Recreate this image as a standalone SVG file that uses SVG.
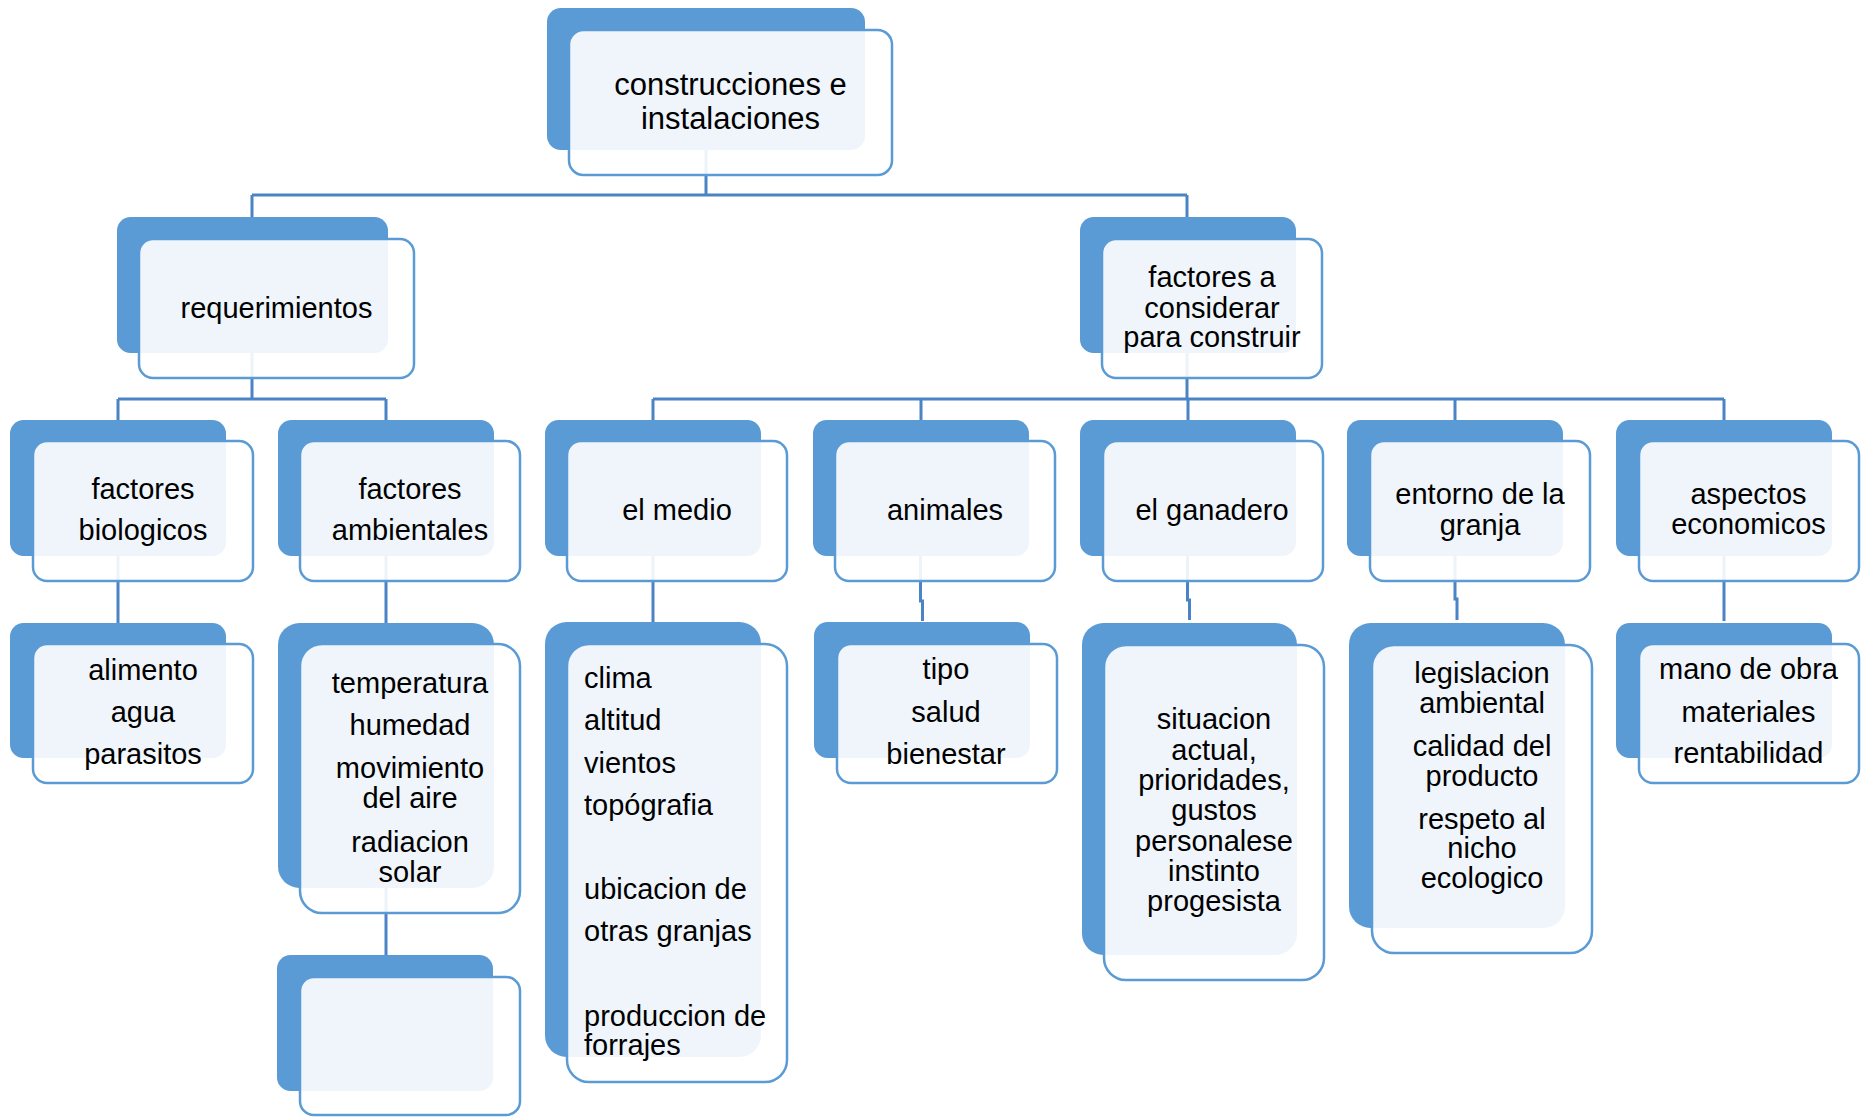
<svg xmlns="http://www.w3.org/2000/svg" width="1871" height="1117" viewBox="0 0 1871 1117">
<style>
.bk{fill:#5B9BD5}
.fr{fill:#FFFFFF;fill-opacity:0.9;stroke:#5B9BD5;stroke-width:2.5}
.t{font-family:"Liberation Sans",Arial,sans-serif;font-size:29px;fill:#000;text-anchor:middle}
.tl{text-anchor:start}
.big{font-size:31px}
.c{fill:none;stroke:#4A84C4;stroke-width:3}
</style>
<rect width="1871" height="1117" fill="#FFFFFF"/>
<g id="connectors">
<path class="c" d="M706 150V195M252 195H1187M252 195V217M1187 195V217"/>
<path class="c" d="M252 353V399M118 399H386M118 399V420M386 399V420"/>
<path class="c" d="M1187 353V399M653 399H1724M653 399V420M921 399V420M1188 399V420M1455 399V420M1724 399V420"/>
<path class="c" d="M118 556V623M386 556V623M653 556V622M920.5 556V601H922.5V621M1187.5 556V600H1189.5V620M1455 556V599H1457V620M1724 556V621"/>
<path class="c" d="M386 888V955"/>
</g>
<g id="n0">
<rect class="bk" x="547" y="8" width="318" height="142" rx="14"/>
<rect class="fr" x="569" y="30" width="323" height="145" rx="14.5"/>
<text class="t big" x="730.5" y="95">construcciones e</text>
<text class="t big" x="730.5" y="129">instalaciones</text>
</g>
<g id="n1">
<rect class="bk" x="117" y="217" width="271" height="136" rx="13.6"/>
<rect class="fr" x="139" y="239" width="275" height="139" rx="14"/>
<text class="t" x="276.5" y="318">requerimientos</text>
</g>
<g id="n2">
<rect class="bk" x="1080" y="217" width="216" height="136" rx="13.6"/>
<rect class="fr" x="1102" y="239" width="220" height="139" rx="14"/>
<text class="t" x="1212" y="287">factores a</text>
<text class="t" x="1212" y="318">considerar</text>
<text class="t" x="1212" y="347">para construir</text>
</g>
<g id="n3">
<rect class="bk" x="10" y="420" width="216" height="136" rx="13.6"/>
<rect class="fr" x="33" y="441" width="220" height="140" rx="14"/>
<text class="t" x="143" y="499">factores</text>
<text class="t" x="143" y="540">biologicos</text>
</g>
<g id="n4">
<rect class="bk" x="278" y="420" width="216" height="136" rx="13.6"/>
<rect class="fr" x="300" y="441" width="220" height="140" rx="14"/>
<text class="t" x="410" y="499">factores</text>
<text class="t" x="410" y="540">ambientales</text>
</g>
<g id="n5">
<rect class="bk" x="545" y="420" width="216" height="136" rx="13.6"/>
<rect class="fr" x="567" y="441" width="220" height="140" rx="14"/>
<text class="t" x="677" y="520">el medio</text>
</g>
<g id="n6">
<rect class="bk" x="813" y="420" width="216" height="136" rx="13.6"/>
<rect class="fr" x="835" y="441" width="220" height="140" rx="14"/>
<text class="t" x="945" y="520">animales</text>
</g>
<g id="n7">
<rect class="bk" x="1080" y="420" width="216" height="136" rx="13.6"/>
<rect class="fr" x="1103" y="441" width="220" height="140" rx="14"/>
<text class="t" x="1212" y="519.5">el ganadero</text>
</g>
<g id="n8">
<rect class="bk" x="1347" y="420" width="216" height="136" rx="13.6"/>
<rect class="fr" x="1370" y="441" width="220" height="140" rx="14"/>
<text class="t" x="1480" y="504">entorno de la</text>
<text class="t" x="1480" y="535">granja</text>
</g>
<g id="n9">
<rect class="bk" x="1616" y="420" width="216" height="136" rx="13.6"/>
<rect class="fr" x="1639" y="441" width="220" height="140" rx="14"/>
<text class="t" x="1748.5" y="504">aspectos</text>
<text class="t" x="1748.5" y="534">economicos</text>
</g>
<g id="n10">
<rect class="bk" x="10" y="623" width="216" height="135" rx="13.5"/>
<rect class="fr" x="33" y="644" width="220" height="139" rx="14"/>
<text class="t" x="143" y="680">alimento</text>
<text class="t" x="143" y="722">agua</text>
<text class="t" x="143" y="764">parasitos</text>
</g>
<g id="n11">
<rect class="bk" x="278" y="623" width="216" height="265" rx="21.6"/>
<rect class="fr" x="300" y="644" width="220" height="269" rx="22"/>
<text class="t" x="410" y="693">temperatura</text>
<text class="t" x="410" y="735">humedad</text>
<text class="t" x="410" y="778">movimiento</text>
<text class="t" x="410" y="808">del aire</text>
<text class="t" x="410" y="852">radiacion</text>
<text class="t" x="410" y="882">solar</text>
</g>
<g id="n12">
<rect class="bk" x="277" y="955" width="216" height="136" rx="13.6"/>
<rect class="fr" x="300" y="977" width="220" height="138" rx="13.8"/>
</g>
<g id="n13">
<rect class="bk" x="545" y="622" width="216" height="435" rx="21.6"/>
<rect class="fr" x="567" y="644" width="220" height="438" rx="22"/>
<text class="t tl" x="584" y="688">clima</text>
<text class="t tl" x="584" y="730">altitud</text>
<text class="t tl" x="584" y="773">vientos</text>
<text class="t tl" x="584" y="815">topógrafia</text>
<text class="t tl" x="584" y="899">ubicacion de</text>
<text class="t tl" x="584" y="941">otras granjas</text>
<text class="t tl" x="584" y="1026">produccion de</text>
<text class="t tl" x="584" y="1055">forrajes</text>
</g>
<g id="n14">
<rect class="bk" x="814" y="622" width="216" height="136" rx="13.6"/>
<rect class="fr" x="837" y="644" width="220" height="139" rx="14"/>
<text class="t" x="946" y="679">tipo</text>
<text class="t" x="946" y="722">salud</text>
<text class="t" x="946" y="764">bienestar</text>
</g>
<g id="n15">
<rect class="bk" x="1082" y="623" width="215" height="332" rx="21.5"/>
<rect class="fr" x="1104" y="645" width="220" height="335" rx="22"/>
<text class="t" x="1214" y="729">situacion</text>
<text class="t" x="1214" y="760">actual,</text>
<text class="t" x="1214" y="790">prioridades,</text>
<text class="t" x="1214" y="820">gustos</text>
<text class="t" x="1214" y="851">personalese</text>
<text class="t" x="1214" y="881">instinto</text>
<text class="t" x="1214" y="911">progesista</text>
</g>
<g id="n16">
<rect class="bk" x="1349" y="623" width="216" height="305" rx="21.6"/>
<rect class="fr" x="1372" y="645" width="220" height="308" rx="22"/>
<text class="t" x="1482" y="683">legislacion</text>
<text class="t" x="1482" y="713">ambiental</text>
<text class="t" x="1482" y="756">calidad del</text>
<text class="t" x="1482" y="786">producto</text>
<text class="t" x="1482" y="829">respeto al</text>
<text class="t" x="1482" y="858">nicho</text>
<text class="t" x="1482" y="888">ecologico</text>
</g>
<g id="n17">
<rect class="bk" x="1616" y="623" width="216" height="135" rx="13.5"/>
<rect class="fr" x="1639" y="644" width="220" height="139" rx="14"/>
<text class="t" x="1748.5" y="679">mano de obra</text>
<text class="t" x="1748.5" y="722">materiales</text>
<text class="t" x="1748.5" y="763">rentabilidad</text>
</g>
</svg>
